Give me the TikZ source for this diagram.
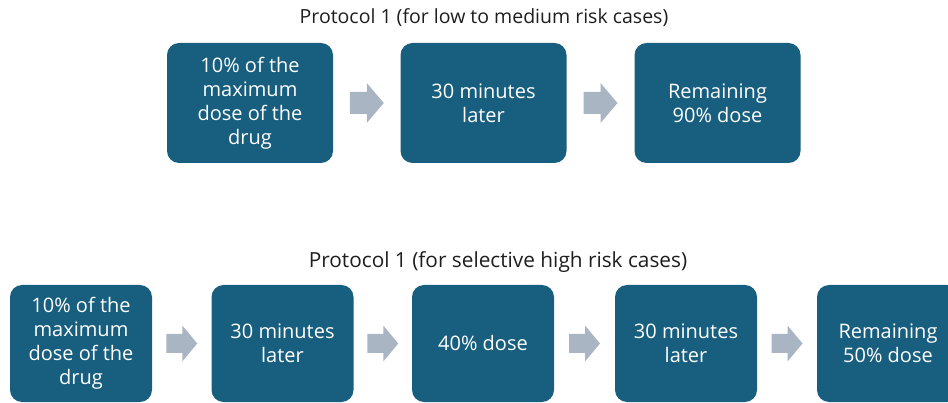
\documentclass[tikz,border=0pt]{standalone}
\usepackage{fontspec}
\setmainfont{Open Sans}
\usetikzlibrary{calc}
\definecolor{stepblue}{RGB}{24,94,126}
\definecolor{arrowgray}{RGB}{170,181,195}
\definecolor{titlegray}{RGB}{30,30,30}
\tikzset{
  stepbox/.style={fill=stepblue, rounded corners=12pt, text=white, align=center,
    inner sep=0pt, font=\fontsize{20}{24}\selectfont},
  bigbox/.style={stepbox, minimum width=166pt, minimum height=120pt},
  smallbox/.style={stepbox, minimum width=142pt, minimum height=117pt},
  heading/.style={text=titlegray, font=\fontsize{19.5}{24}\selectfont, inner sep=0pt},
  bigarrow/.pic={\fill[arrowgray] (-17,-11) -- (0,-11) -- (0,-20) -- (17,0) -- (0,20) -- (0,11) -- (-17,11) -- cycle;},
  smallarrow/.pic={\fill[arrowgray] (-15.5,-9.5) -- (0.5,-9.5) -- (0.5,-18) -- (15.5,0) -- (0.5,18) -- (0.5,9.5) -- (-15.5,9.5) -- cycle;}
}
\begin{document}
\begin{tikzpicture}[x=1pt, y=-1pt]
  \useasboundingbox (0,0) rectangle (948,403);
  \clip (0,0) rectangle (948,403);

  % first protocol
  \node[heading] (t1) at (484,18) {Protocol 1 (for low to medium risk cases)};
  \node[bigbox] (a1) at (250,103) {10\% of the\\maximum\\dose of the\\drug};
  \node[bigbox] (a2) at (483.5,103) {30 minutes\\later};
  \node[bigbox] (a3) at (717.5,103) {Remaining\\90\% dose};
  \pic at ($(a1.east)!0.5!(a2.west)$) {bigarrow};
  \pic at ($(a2.east)!0.5!(a3.west)$) {bigarrow};

  % second protocol
  \node[heading, font=\fontsize{20.8}{24}\selectfont] (t2) at (498,262) {Protocol 1 (for selective high risk cases)};
  \node[smallbox] (b1) at (81,343.5) {10\% of the\\maximum\\dose of the\\drug};
  \node[smallbox] (b2) at (282.5,343.5) {30 minutes\\later};
  \node[smallbox] (b3) at (483,343.5) {40\% dose};
  \node[smallbox] (b4) at (686,343.5) {30 minutes\\later};
  \node[smallbox] (b5) at (888,343.5) {Remaining\\50\% dose};
  \pic at ($(b1.east)!0.5!(b2.west)$) {smallarrow};
  \pic at ($(b2.east)!0.5!(b3.west)$) {smallarrow};
  \pic at ($(b3.east)!0.5!(b4.west)$) {smallarrow};
  \pic at ($(b4.east)!0.5!(b5.west)$) {smallarrow};
\end{tikzpicture}
\end{document}
